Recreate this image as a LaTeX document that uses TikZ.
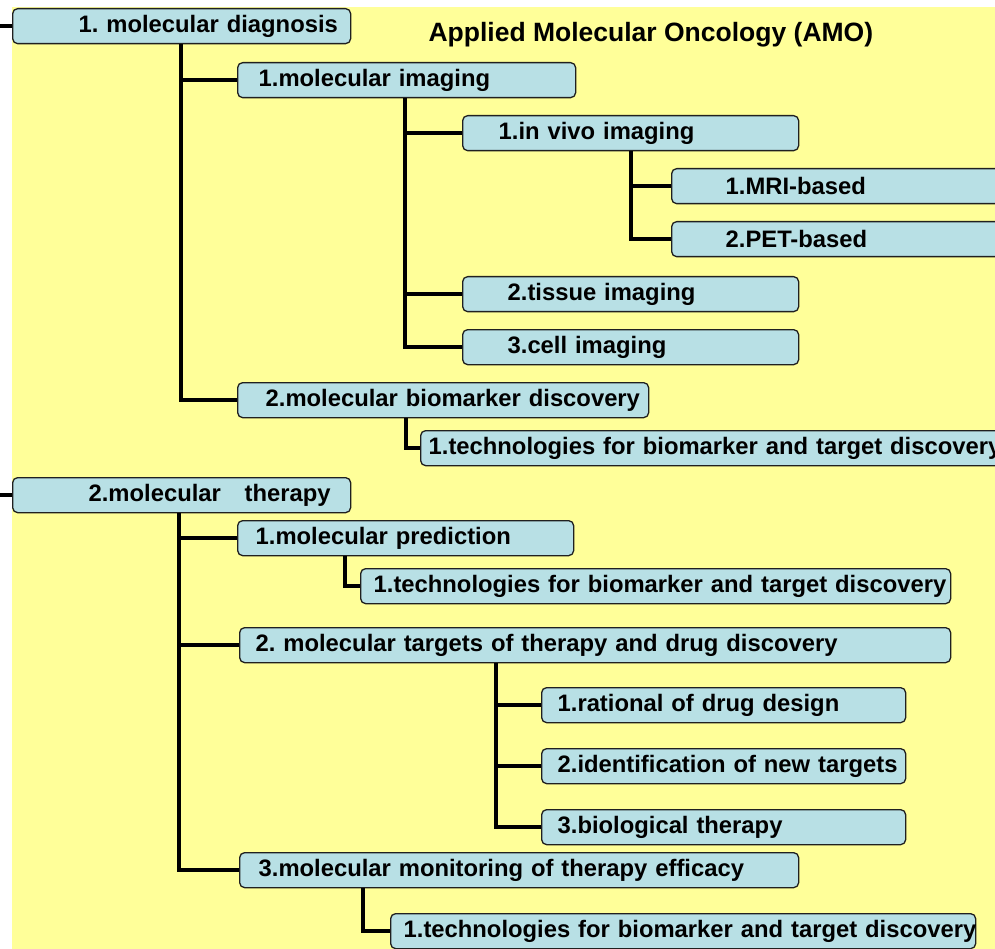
\documentclass[tikz,border=0pt]{standalone}
\usepackage{fontspec}
\setmainfont{Liberation Sans}
\usepackage{pgf,tikz}
\usetikzlibrary{arrows}
\usetikzlibrary{arrows.meta}
\frenchspacing
\definecolor{ffffxx}{rgb}{1.,1.,0.6}
\definecolor{bbddee}{rgb}{0.7215686274509804,0.8784313725490196,0.8980392156862745}
\definecolor{uuuuuu}{rgb}{0.12549019607843137,0.12549019607843137,0.12549019607843137}
\tikzset{
  tbox/.style={draw=uuuuuu,fill=bbddee,line width=1.3pt,rounded corners=5pt,anchor=north west,
    inner xsep=0pt,inner ysep=0pt,minimum height=35pt,align=left,
    font=\fontsize{23.8}{28}\selectfont\bfseries},
  link/.style={line width=3.8pt,line cap=butt,line join=miter,black}
}

\begin{document}
\begin{tikzpicture}[line cap=round,line join=round,>=triangle 45,x=1pt,y=-1pt]
\useasboundingbox (0,0) rectangle (995,949);
\clip (0,0) rectangle (995,949);
\fill [ffffxx] (12,7) rectangle (995,949);
\draw (425,35) node[anchor=west,font=\fontsize{26.5}{30}\selectfont\bfseries] (ttl) {Applied Molecular Oncology (AMO)};
% diagnosis branch
\node [tbox,text width=338pt] (diag) at (12,8) {\hspace*{66pt}\mbox{1. molecular diagnosis}};
\node [tbox,text width=338pt] (img) at (237,62) {\hspace*{21pt}\mbox{1.molecular imaging}};
\node [tbox,text width=336pt] (vivo) at (462,115) {\hspace*{36pt}\mbox{1.in vivo imaging}};
\node [tbox,text width=340pt] (mri) at (671,168) {\hspace*{54pt}\mbox{1.MRI-based}};
\node [tbox,text width=340pt] (pet) at (671,221) {\hspace*{54pt}\mbox{2.PET-based}};
\node [tbox,text width=336pt] (tis) at (462,276) {\hspace*{45pt}\mbox{2.tissue imaging}};
\node [tbox,text width=336pt] (cell) at (462,329) {\hspace*{45pt}\mbox{3.cell imaging}};
\node [tbox,text width=411pt] (bio) at (237,382) {\hspace*{28pt}\mbox{2.molecular biomarker discovery}};
\node [tbox,text width=590pt] (techa) at (420,430) {\hspace*{8pt}\mbox{1.technologies for biomarker and target discovery}};
% therapy branch
\node [tbox,text width=338pt] (ther) at (12,477) {\hspace*{76pt}\mbox{2.molecular\ \ \ therapy}};
\node [tbox,text width=336pt] (pred) at (237,520) {\hspace*{18pt}\mbox{1.molecular prediction}};
\node [tbox,text width=590pt] (techb) at (360,568) {\hspace*{13pt}\mbox{1.technologies for biomarker and target discovery}};
\node [tbox,text width=711pt] (targ) at (239,627) {\hspace*{16pt}\mbox{2. molecular targets of therapy and drug discovery}};
\node [tbox,text width=364pt] (ratl) at (541,687) {\hspace*{16pt}\mbox{1.rational of drug design}};
\node [tbox,text width=364pt] (iden) at (541,748) {\hspace*{16pt}\mbox{2.identification of new targets}};
\node [tbox,text width=364pt] (biol) at (541,809) {\hspace*{16pt}\mbox{3.biological therapy}};
\node [tbox,text width=559pt] (mon) at (239,852) {\hspace*{19pt}\mbox{3.molecular monitoring of therapy efficacy}};
\node [tbox,text width=585pt] (techc) at (390,913) {\hspace*{13pt}\mbox{1.technologies for biomarker and target discovery}};
% connectors
\draw [link] (diag.west) -- ++(-14,0);
\draw [link] (ther.west) -- ++(-14,0);
\draw [link] (diag.south west) ++(169,0) |- (bio.west);
\draw [link] (diag.south west) ++(169,0) |- (img.west);
\draw [link] (img.south west) ++(168,0) |- (cell.west);
\draw [link] (img.south west) ++(168,0) |- (vivo.west);
\draw [link] (img.south west) ++(168,0) |- (tis.west);
\draw [link] (vivo.south west) ++(169,0) |- (pet.west);
\draw [link] (vivo.south west) ++(169,0) |- (mri.west);
\draw [link] (bio.south west) ++(169,0) |- (techa.west);
\draw [link] (ther.south west) ++(167,0) |- (mon.west);
\draw [link] (ther.south west) ++(167,0) |- (pred.west);
\draw [link] (ther.south west) ++(167,0) |- (targ.west);
\draw [link] (pred.south west) ++(108,0) |- (techb.west);
\draw [link] (targ.south west) ++(257,0) |- (biol.west);
\draw [link] (targ.south west) ++(257,0) |- (ratl.west);
\draw [link] (targ.south west) ++(257,0) |- (iden.west);
\draw [link] (mon.south west) ++(124,0) |- (techc.west);
\end{tikzpicture}
\end{document}
